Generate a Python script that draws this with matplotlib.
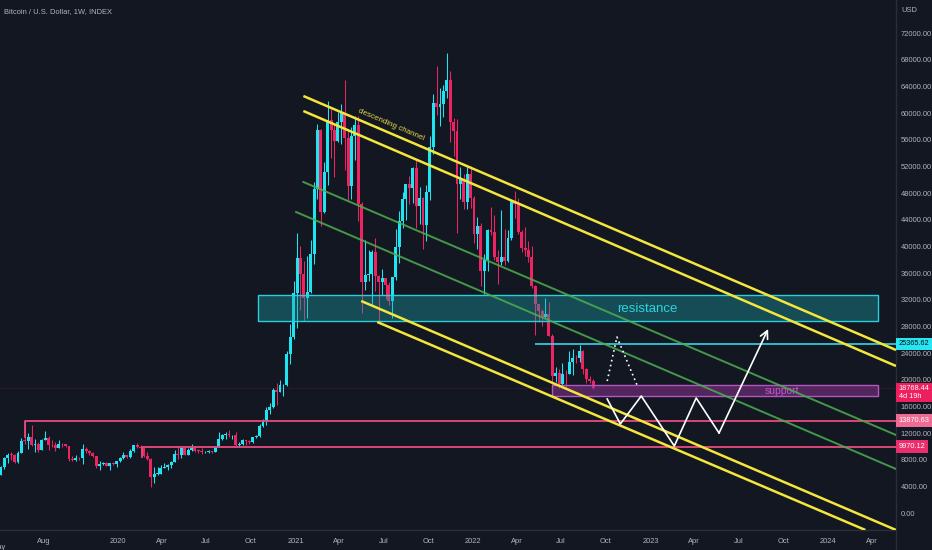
import numpy as np
import pandas as pd
import matplotlib
matplotlib.use("Agg")
import matplotlib.pyplot as plt
import matplotlib.dates as mdates
from matplotlib.patches import Rectangle
from matplotlib.transforms import blended_transform_factory

plt.rcParams['font.family'] = ['Liberation Sans', 'DejaVu Sans']

BG = '#131722'
UP = '#1fe5f2'
DOWN = '#ee2362'
TXT = '#b2b5be'
SMALL = 5.4

# weekly candles, Monday open; open = previous close
first_open = 5300
closes = [
    # 2019 (from Apr 29)
    5750, 6950, 8200, 8750, 8740, 7650, 8950, 10850, 10800, 11450, 10200, 10330,
    9500, 11000, 11300, 10200, 10150, 9750, 10400, 10300, 10000, 8050, 7900, 8300,
    8200, 9550, 9300, 9050, 8500, 7050, 7400, 7500, 7100, 7500, 7400, 7750,
    # 2020
    8200, 8700, 8350, 9350, 10150, 9900, 9700, 8550, 8050, 5350, 5850, 5900, 6800,
    6900, 7150, 7700, 8900, 8750, 9700, 8700, 9450, 9750, 9350, 9300, 9100, 9100,
    9250, 9200, 9950, 11100, 11700, 11900, 11650, 11700, 10250, 10350, 10900, 10750,
    10650, 11400, 11500, 13050, 13750, 15500, 15950, 18400, 18200, 19150, 19250,
    23850, 26450, 33000,
    # 2021
    38200, 35800, 32300, 33100, 38900, 48600, 57500, 45200, 51200, 59000, 57500,
    55800, 58700, 60000, 56200, 49100, 56600, 58200, 46400, 34700, 35650, 35800,
    39100, 35500, 34700, 35300, 34250, 31800, 35400, 39850, 43800, 47100, 49300,
    48800, 51750, 46050, 47250, 43200, 48200, 54950, 61500, 60850, 61300, 63300,
    65000, 58600, 57300, 49400, 50100, 46700, 50800, 47300,
    # 2022
    41850, 43100, 36300, 37900, 42400, 42200, 38400, 37700, 38400, 37800, 41300,
    46850, 46400, 42150, 39700, 39450, 38450, 34050, 31300, 30300, 29450, 29900,
    26600, 20550, 21050, 19300, 20850, 20800, 22600, 23300, 23200, 24300, 21550,
    20050, 19850, 18768,
]
highs = [
    5900, 7050, 8350, 8950, 9100, 8800, 9300, 11250, 13870, 12000, 13150, 11100,
    10650, 11100, 12300, 11500, 10950, 10600, 10900, 10450, 10350, 10050, 8500, 8700,
    8450, 10350, 9950, 9500, 9100, 8550, 7850, 7700, 7600, 7550, 7700, 7850,
    8450, 9200, 8750, 9600, 10150, 10500, 10200, 9950, 9200, 8200, 6900, 6950, 7200,
    7450, 7300, 7800, 9450, 10050, 9950, 9900, 9750, 10400, 10000, 9600, 9800, 9300,
    9450, 9350, 10100, 12100, 11900, 12100, 12450, 11750, 12100, 10600, 11150, 10950,
    10950, 11450, 11700, 13350, 14100, 15950, 16450, 18800, 19450, 19900, 19400,
    24300, 28400, 34800,
    41950, 40100, 37850, 38600, 40950, 49700, 58350, 57550, 52600, 61800, 60600,
    58400, 60200, 61300, 64900, 57500, 57950, 59500, 59600, 46650, 40900, 39500,
    39400, 41300, 35700, 36600, 35300, 34600, 35400, 42600, 45300, 48150, 49400,
    50500, 51900, 52900, 48850, 47350, 49250, 56550, 62900, 67000, 63700, 64250,
    69000, 66300, 59250, 59150, 51950, 50800, 51900, 52100,
    47600, 44450, 43500, 38900, 42650, 45850, 44750, 39500, 45400, 42600, 42400,
    47000, 48250, 47200, 42450, 42950, 40800, 40000, 34250, 31400, 30650, 32200,
    31600, 26900, 21900, 21550, 22450, 21500, 24250, 24650, 23650, 25200, 24450,
    21800, 20550, 20150,
]
lows = [
    5250, 5700, 6650, 7550, 8000, 7450, 7550, 8950, 10350, 9650, 10100, 9100,
    9200, 9400, 11000, 9500, 9900, 9350, 9750, 9900, 9850, 7800, 7750, 7850,
    7900, 7300, 9000, 8700, 8400, 6800, 6500, 7150, 7000, 6450, 7150, 6900,
    7700, 8100, 8250, 8250, 9100, 9700, 9300, 8400, 8000, 3850, 4450, 5700, 5850,
    6750, 6500, 6800, 7700, 8100, 8200, 8700, 8650, 9300, 9200, 9000, 8850, 8950,
    9050, 9050, 9150, 9950, 11000, 11150, 11400, 11150, 9900, 9850, 10250, 10150,
    10400, 10550, 11250, 11400, 12900, 13250, 14900, 15800, 16200, 18200, 17600,
    19000, 22350, 26050,
    27700, 30400, 28850, 29250, 33000, 37350, 47050, 43000, 45000, 49250, 53300,
    50400, 55650, 55400, 51500, 47000, 47050, 53000, 43800, 30000, 33400, 34800,
    31000, 33350, 28800, 32700, 32100, 31150, 29300, 34900, 37500, 42800, 43950,
    46350, 46550, 42800, 43400, 39600, 40750, 46900, 53850, 59650, 58000, 59400,
    62300, 55600, 53500, 42000, 47100, 45600, 45550, 45700,
    40550, 39650, 34000, 32900, 36250, 41700, 38000, 34300, 37200, 37150, 37600,
    40900, 44200, 41900, 39200, 38550, 37700, 33700, 26700, 28650, 28050, 29300,
    26550, 17600, 19650, 18800, 19050, 18950, 20800, 20700, 22450, 22700, 20800,
    19550, 19550, 18650,
]

# drawings (date, price)
yellow_start = ['2021-01-17', '2021-01-17', '2021-05-16', '2021-06-18']
yellow_start_price = [62550, 60300, 31800, 28650]
yellow_end = ['2024-05-20', '2024-05-20', '2024-05-20', '2024-03-18']
yellow_end_price = [24450, 22050, -2550, -2550]

green_start = ['2021-01-17', '2021-01-02']
green_start_price = [49650, 45150]
green_end = ['2024-05-20', '2024-05-20']
green_end_price = [11700, 6600]

resistance_dates = ['2020-10-16', '2024-04-12']
resistance_prices = [28850, 32700]
support_dates = ['2022-06-13', '2024-04-12']
support_prices = [17600, 19150]

level_prices = [25365.62, 13870.63, 9970.12]
level_starts = ['2022-05-09', '2019-06-24', '2020-02-20']
level_drops = [None, 11400, 8400]
last_price = 18768.44

path_dates = ['2022-10-04', '2022-10-31', '2022-12-13', '2023-02-19', '2023-04-05',
              '2023-05-22', '2023-08-31']
path_prices = [17100, 13350, 17550, 10050, 17250, 12000, 27600]
dotted_dates = ['2022-10-04', '2022-10-24', '2022-12-06']
dotted_prices = [19800, 26400, 18900]

tick_dates = ['2019-08-01', '2020-01-01', '2020-04-01', '2020-07-01', '2020-10-01',
              '2021-01-01', '2021-04-01', '2021-07-01', '2021-10-01', '2022-01-01',
              '2022-04-01', '2022-07-01', '2022-10-01', '2023-01-01', '2023-04-01',
              '2023-07-01', '2023-10-01', '2024-01-01', '2024-04-01']
tick_labels = ['Aug', '2020', 'Apr', 'Jul', 'Oct', '2021', 'Apr', 'Jul', 'Oct', '2022',
               'Apr', 'Jul', 'Oct', '2023', 'Apr', 'Jul', 'Oct', '2024', 'Apr']
price_ticks = np.arange(0, 72001, 4000)

# ---- candles
weeks = pd.date_range('2019-04-29', periods=len(closes), freq='W-MON')
closes = np.array(closes, dtype=float)
opens = np.concatenate([[first_open], closes[:-1]])
up = closes >= opens
colors = np.where(up, UP, DOWN)

fig = plt.figure(figsize=(9.32, 5.5), dpi=100, facecolor=BG)
ax = fig.add_axes([0, 20 / 550, 896 / 932, 530 / 550], facecolor=BG)

ax.vlines(weeks, lows, highs, colors=colors, linewidth=0.75, zorder=2)
body = np.maximum(np.abs(closes - opens), 120)
ax.bar(weeks, body, bottom=np.minimum(opens, closes), width=6.0, color=colors,
       linewidth=0, zorder=3)

pd_ = pd.to_datetime
num = mdates.date2num

# zones
r0, r1 = num(pd_(resistance_dates[0])), num(pd_(resistance_dates[1]))
ax.add_patch(Rectangle((r0, resistance_prices[0]), r1 - r0,
                       resistance_prices[1] - resistance_prices[0],
                       facecolor='#1aa3ad', alpha=0.38, edgecolor='none', zorder=4))
ax.add_patch(Rectangle((r0, resistance_prices[0]), r1 - r0,
                       resistance_prices[1] - resistance_prices[0],
                       facecolor='none', edgecolor='#29d0dc', linewidth=1.0, zorder=4))
s0, s1 = num(pd_(support_dates[0])), num(pd_(support_dates[1]))
ax.add_patch(Rectangle((s0, support_prices[0]), s1 - s0,
                       support_prices[1] - support_prices[0],
                       facecolor='#9c3aa6', alpha=0.45, edgecolor='none', zorder=4))
ax.add_patch(Rectangle((s0, support_prices[0]), s1 - s0,
                       support_prices[1] - support_prices[0],
                       facecolor='none', edgecolor='#b555c4', linewidth=1.0, zorder=4))
ax.text(num(pd_('2022-12-25')), 30600, 'resistance', color='#2ad6e0', fontsize=9.5,
        ha='center', va='center', zorder=6)
ax.text(num(pd_('2023-09-29')), 18300, 'support', color='#c357c9', fontsize=7.5,
        ha='center', va='center', zorder=6)

# horizontal levels
xend = num(pd_('2024-06-30'))
ax.hlines(level_prices[0], num(pd_(level_starts[0])), xend, color='#35d6e8', lw=1.2, zorder=5)
for p, st, dr in zip(level_prices[1:], level_starts[1:], level_drops[1:]):
    x0 = num(pd_(st))
    ax.plot([x0, x0, xend], [dr, p, p], color='#e84a7f', lw=1.3, zorder=5)
ax.axhline(last_price, color='#e91e63', lw=0.6, alpha=0.4, ls=(0, (1, 1.5)), zorder=1)

# channel lines
for a, ap, b, bp in zip(yellow_start, yellow_start_price, yellow_end, yellow_end_price):
    ax.plot([pd_(a), pd_(b)], [ap, bp], color='#f5e63c', lw=1.8, zorder=6,
            solid_capstyle='butt')
for a, ap, b, bp in zip(green_start, green_start_price, green_end, green_end_price):
    ax.plot([pd_(a), pd_(b)], [ap, bp], color='#4caf50', lw=1.4, alpha=0.85, zorder=6)
ax.text(num(pd_('2021-07-16')), 58300, 'descending channel', color='#e8d84a', fontsize=5.8,
        rotation=-23.2, rotation_mode='anchor', ha='center', va='center', zorder=7)

# projected path
pdates = pd_(path_dates)
ax.plot(pdates[:-1], path_prices[:-1], color='white', lw=1.2, zorder=7)
ax.annotate('', xy=(pdates[-1], path_prices[-1]), xytext=(pdates[-2], path_prices[-2]),
            arrowprops=dict(arrowstyle='->', color='white', lw=1.2,
                            shrinkA=0, shrinkB=0, mutation_scale=14), zorder=7)
ax.plot(pd_(dotted_dates), dotted_prices, color='white', lw=1.2, ls=(0, (1, 2)), zorder=7)

# axes
ax.set_xlim(pd_('2019-05-04'), pd_('2024-05-20'))
ax.set_ylim(-2550, 76950)
ax.set_xticks(pd_(tick_dates))
ax.set_xticklabels(tick_labels)
ax.yaxis.tick_right()
ax.set_yticks(price_ticks)
ax.set_yticklabels([f'{v:.2f}' for v in price_ticks])
ax.tick_params(axis='both', length=0, colors=TXT, labelsize=SMALL)
ax.tick_params(axis='x', pad=5.5)
ax.tick_params(axis='y', pad=3.2)
for side in ['top', 'left']:
    ax.spines[side].set_visible(False)
for side in ['right', 'bottom']:
    ax.spines[side].set_color('#2a2e39')
    ax.spines[side].set_linewidth(1.0)
fig.add_artist(plt.Line2D([896 / 932, 896 / 932], [0, 20 / 550], color='#2a2e39', lw=1.0))

ax.text(pd_('2019-05-01'), -0.0265, 'May', transform=blended_transform_factory(ax.transData, ax.transAxes),
        color=TXT, fontsize=SMALL, ha='center', va='top', clip_on=False)

# price labels on the scale
tr = blended_transform_factory(ax.transAxes, ax.transData)
lab = dict(transform=tr, fontsize=5.3, ha='left', va='center', clip_on=False, zorder=10)
ax.text(1.003, level_prices[0], f'{level_prices[0]:.2f}', color='#0b0e14',
        bbox=dict(boxstyle='square,pad=0.35', fc='#27e6f4', ec='none'), **lab)
ax.text(1.003, last_price - 700, f'{last_price:.2f}\n4d 19h', color='white', linespacing=1.15,
        bbox=dict(boxstyle='square,pad=0.35', fc='#ee1f5f', ec='none'), **lab)
ax.text(1.003, level_prices[1], f'{level_prices[1]:.2f}', color='white',
        bbox=dict(boxstyle='square,pad=0.35', fc='#f06b93', ec='none'), **lab)
ax.text(1.003, level_prices[2], f'{level_prices[2]:.2f}', color='white',
        bbox=dict(boxstyle='square,pad=0.35', fc='#ec2d6b', ec='none'), **lab)

fig.text(901 / 932, 1 - 10 / 550, 'USD', color=TXT, fontsize=SMALL, ha='left', va='center')
fig.text(4 / 932, 1 - 12 / 550, 'Bitcoin / U.S. Dollar, 1W, INDEX', color=TXT,
         fontsize=SMALL, ha='left', va='center')

fig.savefig('out.png', dpi=100, facecolor=BG)
